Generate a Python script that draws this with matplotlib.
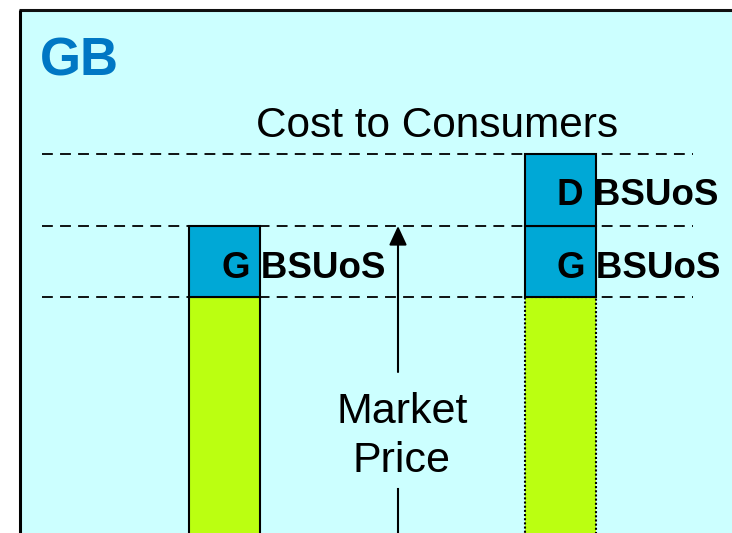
import matplotlib.pyplot as plt
from matplotlib.patches import Rectangle

plt.rcParams['font.family'] = ['Liberation Sans', 'DejaVu Sans']

# cost stack per bar (pixel-like units, 0 = bottom edge of the view)
bars = ['G charged', 'G + D charged']
market_price = [236, 236]
g_bsuos = [71, 71]
d_bsuos = [0, 72]
base = -30  # bars run off the bottom of the slide

W, H = 732, 533
bg = '#CCFFFF'
blue = '#00A8D6'
green = '#BBFF11'

fig = plt.figure(figsize=(W / 100, H / 100), dpi=100)
ax = fig.add_axes([0, 0, 1, 1])
ax.set_xlim(0, W)
ax.set_ylim(0, H)
ax.axis('off')

# slide panel
ax.add_patch(Rectangle((20, -10), W, H, facecolor=bg, edgecolor='none', zorder=0))
ax.plot([19, W + 5], [H - 10, H - 10], color='#111111', lw=2.2, solid_capstyle='butt', zorder=1)
ax.plot([20, 20], [-5, H - 10], color='black', lw=2.2, solid_capstyle='butt', zorder=1)

xs = [224.5, 560]
bw = 71

# dashed reference levels
lvl_market = market_price[0]
lvl_g = market_price[0] + g_bsuos[0]
lvl_d = market_price[1] + g_bsuos[1] + d_bsuos[1]
for lv in [lvl_market, lvl_g, lvl_d]:
    ax.plot([42, 693], [lv, lv], color='black', lw=1.3, dashes=(6, 4), zorder=2)

# market price part
ax.bar(xs[0], market_price[0] - base, bottom=base, width=bw, color=green,
       edgecolor='black', lw=1.5, zorder=3)
ax.bar(xs[1], market_price[1] - base, bottom=base, width=bw, color=green,
       edgecolor='black', lw=1.5, linestyle=(0, (1, 1)), zorder=3)

# BSUoS boxes
ax.bar(xs, g_bsuos, bottom=market_price, width=bw, color=blue,
       edgecolor='black', lw=1.5, zorder=4)
g_top = [m + g for m, g in zip(market_price, g_bsuos)]
ax.bar(xs[1], d_bsuos[1], bottom=g_top[1], width=bw, color=blue,
       edgecolor='black', lw=1.5, zorder=4)

lab = dict(fontsize=26.5, fontweight='bold', ha='left', va='baseline', zorder=5)
for x, m in zip(xs, market_price):
    ax.text(x - 3, m + 19, 'G BSUoS', **lab)
ax.text(xs[1] - 3, g_top[1] + 21, 'D BSUoS', **lab)

# titles
ax.text(40, H - 75, 'GB', fontsize=38, fontweight='bold', color='#0077C4',
        ha='left', va='baseline')
ax.text(437, H - 137, 'Cost to Consumers', fontsize=30.5, ha='center', va='baseline')

# market price arrow
ax.annotate('', xy=(398, lvl_g), xytext=(398, H - 372),
            arrowprops=dict(arrowstyle='-|>,head_length=0.58,head_width=0.27',
                            mutation_scale=20, lw=1.5, color='black',
                            shrinkA=0, shrinkB=0))
ax.plot([398, 398], [-5, H - 489], color='black', lw=1.5)
ax.text(402, H - 423, 'Market', fontsize=31, ha='center', va='baseline')
ax.text(402, H - 472, 'Price', fontsize=31, ha='center', va='baseline')

fig.savefig('out.png', dpi=100, facecolor='white')
